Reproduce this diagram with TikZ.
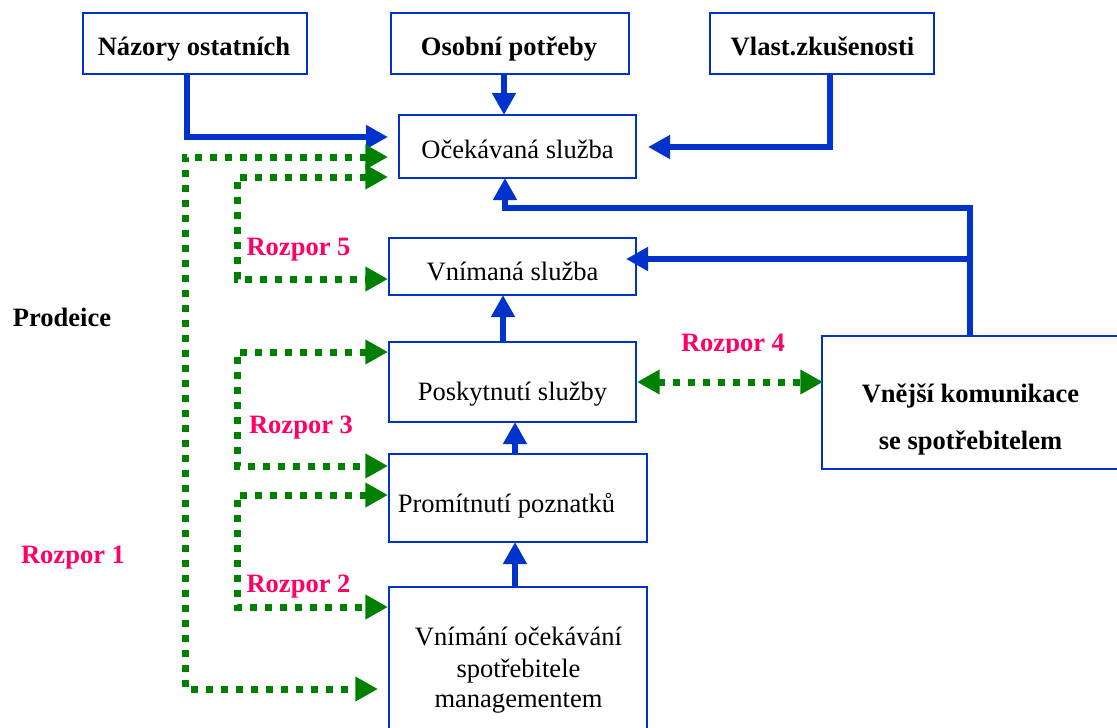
\documentclass[tikz,border=0pt]{standalone}
\usepackage{fontspec}
\setmainfont{Liberation Serif}
\usetikzlibrary{arrows.meta,calc}
\definecolor{bblue}{RGB}{0,51,204}
\definecolor{dgreen}{RGB}{0,128,0}
\definecolor{rpink}{RGB}{255,0,102}
\begin{document}
\begin{tikzpicture}[x=0.75pt,y=-0.75pt,
  bx/.style={draw=bblue,line width=1.9pt,inner sep=0pt,outer sep=0pt},
  txt/.style={inner sep=0pt,anchor=base,font=\fontsize{19.9}{24}\selectfont},
  btxt/.style={inner sep=0pt,anchor=base,font=\fontsize{19.9}{24}\selectfont\bfseries},
  rtxt/.style={btxt,text=rpink},
  bluearr/.style={draw=bblue,line width=4.7pt,-{Triangle[length=16.5pt,width=17pt]}},
  greenarr/.style={draw=dgreen,line width=5.25pt,dash pattern=on 5.25pt off 6pt,{Triangle[length=17pt,width=17.5pt]}-{Triangle[length=17pt,width=17.5pt]}}
]
\clip (0,0) rectangle (1117,728);
\fill[white] (0,0) rectangle (1117,728);

% boxes
\node[bx,minimum width={224*0.75pt},minimum height={61*0.75pt}] (nazory) at (195,43.5) {};
\node[bx,minimum width={238*0.75pt},minimum height={61*0.75pt}] (osobni) at (510,43.5) {};
\node[bx,minimum width={224*0.75pt},minimum height={61*0.75pt}] (vlast) at (822,43.5) {};
\node[bx,minimum width={237*0.75pt},minimum height={63*0.75pt}] (ocek) at (517.5,146.5) {};
\node[bx,minimum width={247*0.75pt},minimum height={57*0.75pt}] (vnimana) at (512.5,266.5) {};
\node[bx,minimum width={247*0.75pt},minimum height={80*0.75pt}] (posk) at (512.5,382) {};
\node[bx,minimum width={258*0.75pt},minimum height={88*0.75pt}] (prom) at (518,498) {};
\node[bx,minimum width={258*0.75pt},minimum height={148*0.75pt}] (vnimani) at (518,661) {};
\node[bx,minimum width={303*0.75pt},minimum height={133*0.75pt}] (vnejsi) at (973.5,402.5) {};

% texts in boxes
\node[btxt] (nazoryT) at (194,55) {Názory ostatních};
\node[btxt] (osobniT) at (509,55) {Osobní potřeby};
\node[btxt] (vlastT) at (822.5,55) {Vlast.zkušenosti};
\node[txt] (ocekT) at (517.5,158) {Očekávaná služba};
\node[txt] (vnimanaT) at (512.5,280) {Vnímaná služba};
\node[txt] (poskT) at (512.5,400) {Poskytnutí služby};
\node[txt] (promT) at (506.5,512) {Promítnutí poznatků};
\node[txt] (vnimaniT1) at (518.5,645) {Vnímání očekávání};
\node[txt] (vnimaniT2) at (518.5,677) {spotřebitele};
\node[txt] (vnimaniT3) at (518.5,707) {managementem};
\node[btxt] (vnejsiT1) at (970.5,402) {Vnější komunikace};
\node[btxt] (vnejsiT2) at (970.5,449) {se spotřebitelem};

% free labels
\node[btxt] (prodeice) at (62,326) {Prodeice};
\node[rtxt] (r1) at (73,563) {Rozpor 1};
\node[rtxt] (r2) at (298.5,592) {Rozpor 2};
\node[rtxt] (r3) at (301,433) {Rozpor 3};
\node[rtxt] (r5) at (298.5,255) {Rozpor 5};
\begin{scope}
  \clip (600,300) rectangle (850,352);
  \node[rtxt] (r4) at (733,351) {Rozpor 4};
\end{scope}

% blue connectors
\draw[bluearr] ($(nazory.south)+(-8,0)$) |- ($(ocek.west)+(-11,-9.5)$);
\draw[bluearr] ($(osobni.south)+(-6,0)$) coordinate (os) -- (os |- ocek.north);
\draw[bluearr] ($(vlast.south)+(8,0)$) |- ($(ocek.east)+(12,0.5)$);
\draw[bluearr] ($(vnejsi.north)+(-3.5,0)$) |- ($(ocek.south)+(-12.5,30)$) -- ($(ocek.south)+(-12.5,0)$);
\coordinate (jn) at ($(vnejsi.north)+(-3.5,-77)$);
\draw[bluearr] (jn) -- ($(vnimana.east)+(-10,-7.5)$);
\draw[bluearr] ($(posk.north)+(-9.5,0)$) coordinate (p1) -- (p1 |- vnimana.south);
\draw[bluearr] ($(prom.north)+(-3,0)$) coordinate (p2) -- (p2 |- posk.south);
\draw[bluearr] ($(vnimani.north)+(-3,0)$) coordinate (p3) -- (p3 |- prom.south);

% green dotted connectors
\draw[greenarr] ($(ocek.west)+(-11,10.5)$) -- ++(-203,0) |- ($(vnimani.west)+(-11,28)$);
\draw[greenarr] ($(ocek.west)+(-11,30.5)$) -- ++(-151,0) |- ($(vnimana.west)+(-1,12.5)$);
\draw[greenarr] ($(posk.west)+(-1,-30)$) -- ++(-151,0) |- ($(prom.west)+(-1,-32)$);
\draw[greenarr] ($(prom.west)+(-1,-3)$) -- ++(-151,0) |- ($(vnimani.west)+(-1,-54)$);
\draw[greenarr] ($(posk.east)+(1,0)$) -- ($(vnejsi.west)+(1,-20.5)$);
\end{tikzpicture}
\end{document}
